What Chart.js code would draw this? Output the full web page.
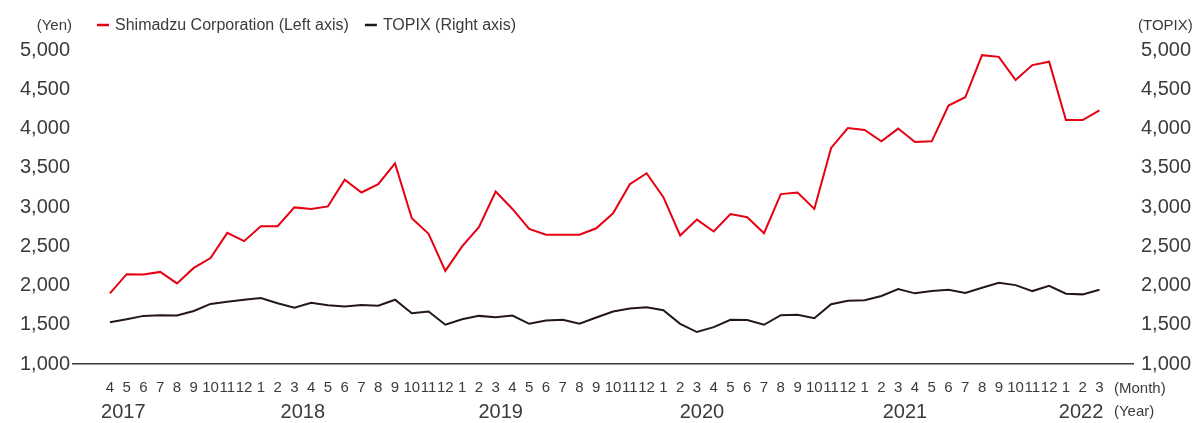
<!DOCTYPE html>
<html>
<head>
<meta charset="utf-8">
<script src="https://cdn.jsdelivr.net/npm/chart.js@4"></script>
<style>
  html, body { margin: 0; padding: 0; background: #fff; }
  #wrap { width: 1195px; height: 423px; }
</style>
</head>
<body>
<div id="wrap"><canvas id="chart"></canvas></div>
<script>
// months Apr 2017 - Mar 2022
const monthLabels = ['4','5','6','7','8','9','10','11','12',
  '1','2','3','4','5','6','7','8','9','10','11','12',
  '1','2','3','4','5','6','7','8','9','10','11','12',
  '1','2','3','4','5','6','7','8','9','10','11','12',
  '1','2','3','4','5','6','7','8','9','10','11','12',
  '1','2','3'];

const yearLabels = ['2017', '2018', '2019', '2020', '2021', '2022'];

const shimadzu = [1900, 2144, 2140, 2173, 2027, 2224, 2350, 2671, 2565,
  2755, 2755, 2995, 2975, 3008, 3349, 3185, 3291, 3556, 2856, 2659, 2186,
  2498, 2742, 3197, 2975, 2722, 2646, 2646, 2646, 2729, 2919, 3291, 3430,
  3125, 2637, 2839, 2688, 2911, 2869, 2666, 3164, 3185, 2975, 3753, 4006,
  3981, 3838, 3999, 3829, 3836, 4293, 4398, 4934, 4913, 4618, 4808, 4850,
  4107, 4107, 4230];

const topix = [1533, 1571, 1613, 1622, 1617, 1676, 1765, 1794, 1819,
  1841, 1774, 1718, 1781, 1748, 1731, 1752, 1743, 1819, 1647, 1668, 1500,
  1571, 1613, 1597, 1617, 1512, 1554, 1563, 1512, 1592, 1668, 1706, 1722,
  1685, 1512, 1407, 1470, 1563, 1559, 1500, 1622, 1626, 1584, 1761, 1807,
  1811, 1866, 1954, 1900, 1929, 1946, 1904, 1971, 2034, 2005, 1929, 1996,
  1895, 1887, 1946];

const yTicks = [1000, 1500, 2000, 2500, 3000, 3500, 4000, 4500, 5000];

// where the year captions sit on the month axis (index units)
const yearPos = [0.8, 11.5, 23.3, 35.3, 47.4, 57.9];

const TEXT = '#3d3a39';
const FONT = '"Liberation Sans", Arial, sans-serif';

const extras = {
  id: 'extras',
  afterDraw(chart) {
    const ctx = chart.ctx;
    const area = chart.chartArea;
    const x = chart.scales.x;
    ctx.save();
    ctx.fillStyle = TEXT;
    ctx.textBaseline = 'middle';

    // unit captions
    ctx.font = '15px ' + FONT;
    ctx.textAlign = 'right';
    ctx.fillText('(Yen)', 72, 26);
    ctx.textAlign = 'left';
    ctx.fillText('(TOPIX)', 1138, 26);

    // legend
    ctx.font = '16px ' + FONT;
    let lx = 97;
    chart.data.datasets.forEach(ds => {
      ctx.strokeStyle = ds.borderColor;
      ctx.lineWidth = 2.5;
      ctx.beginPath();
      ctx.moveTo(lx, 25);
      ctx.lineTo(lx + 12, 25);
      ctx.stroke();
      ctx.fillStyle = TEXT;
      ctx.fillText(ds.label, lx + 18, 26);
      lx += 18 + ctx.measureText(ds.label).width + 16;
    });

    // year captions
    ctx.font = '20px ' + FONT;
    ctx.textAlign = 'center';
    yearLabels.forEach((y, i) => {
      ctx.fillText(y, x.getPixelForValue(yearPos[i]), 412);
    });

    ctx.font = '15px ' + FONT;
    ctx.textAlign = 'left';
    ctx.fillText('(Month)', area.right - 19, 389);
    ctx.fillText('(Year)', area.right - 19, 412);
    ctx.restore();
  }
};

const fmt = v => v.toLocaleString('en-US');

new Chart(document.getElementById('chart'), {
  type: 'line',
  data: {
    datasets: [{
      label: 'Shimadzu Corporation (Left axis)',
      data: shimadzu.map((v, i) => ({ x: i, y: v })),
      borderColor: '#e60012',
      borderWidth: 2,
      pointRadius: 0,
      tension: 0,
      yAxisID: 'y'
    }, {
      label: 'TOPIX (Right axis)',
      data: topix.map((v, i) => ({ x: i, y: v })),
      borderColor: '#231815',
      borderWidth: 2,
      pointRadius: 0,
      tension: 0,
      yAxisID: 'y1'
    }]
  },
  options: {
    responsive: true,
    maintainAspectRatio: false,
    animation: false,
    events: [],
    layout: { padding: { top: 50, bottom: 11, left: 0, right: 0 } },
    plugins: {
      legend: { display: false },
      tooltip: { enabled: false }
    },
    scales: {
      x: {
        type: 'linear',
        min: -2.2,
        max: 61,
        grid: { display: false, drawTicks: false },
        border: { display: true, color: '#3d3a39', width: 1.5 },
        afterBuildTicks: s => { s.ticks = monthLabels.map((m, i) => ({ value: i })); },
        ticks: {
          autoSkip: false,
          maxRotation: 0,
          padding: 15,
          color: TEXT,
          font: { family: FONT, size: 15 },
          callback: v => monthLabels[v]
        }
      },
      y: {
        position: 'left',
        min: 1000,
        max: 5000,
        grid: { display: false, drawTicks: false },
        border: { display: false },
        afterBuildTicks: s => { s.ticks = yTicks.map(v => ({ value: v })); },
        afterFit: s => { s.width = 73; },
        ticks: {
          padding: 3,
          color: TEXT,
          font: { family: FONT, size: 20 },
          callback: fmt
        }
      },
      y1: {
        position: 'right',
        min: 1000,
        max: 5000,
        grid: { display: false, drawTicks: false },
        border: { display: false },
        afterBuildTicks: s => { s.ticks = yTicks.map(v => ({ value: v })); },
        afterFit: s => { s.width = 62; },
        ticks: {
          padding: 8,
          color: TEXT,
          font: { family: FONT, size: 20 },
          callback: fmt
        }
      }
    }
  },
  plugins: [extras]
});
</script>
</body>
</html>
